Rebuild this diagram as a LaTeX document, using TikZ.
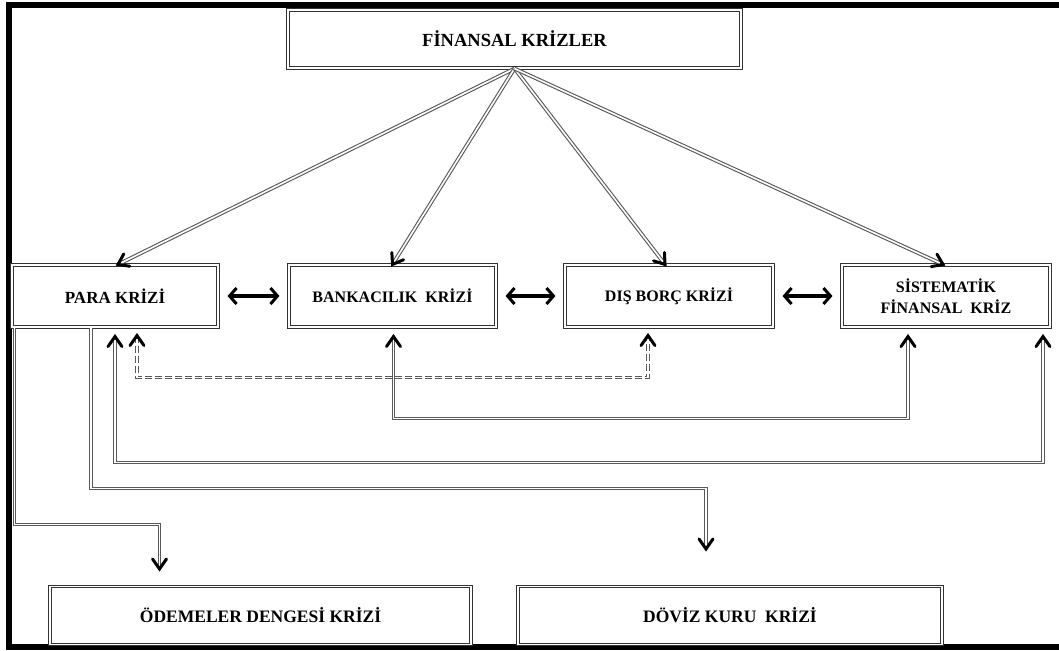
\documentclass[tikz,border=0pt]{standalone}
\usepackage{fontspec}
\setmainfont{Liberation Serif}
\usetikzlibrary{arrows.meta,calc}
\begin{document}
\begin{tikzpicture}[x=1pt,y=-1pt,
  box/.style n args={2}{draw=black!80, double=white, double distance=1.6pt, line width=1.1pt,
     minimum width=#1, minimum height=#2, inner sep=0pt, align=center,
     font=\fontsize{16}{21}\selectfont\bfseries},
  dbl/.style={draw=black!65, double=white, double distance=1.6pt, line width=1.1pt},
  vtip/.style={draw=black, solid, line width=3pt, line cap=round, line join=miter},
  harrow/.style={black, line width=3.2pt, shorten <=9pt, shorten >=9pt,
     {Straight Barb[length=7pt,width=16pt,line width=3pt]}-{Straight Barb[length=7pt,width=16pt,line width=3pt]}},
  dsh/.style={dash pattern=on 7pt off 3pt}
]
\useasboundingbox (0,0) rectangle (1059,650);
% frame
\draw[line width=6pt] (1065,5) -- (9,5) -- (9,647) -- (1065,647);

% boxes
\node[box={453pt}{58pt}, font=\fontsize{18.5}{22}\selectfont\bfseries] (top) at (514.5,39) {FİNANSAL KRİZLER};
\node[box={206pt}{62pt}, font=\fontsize{17}{21}\selectfont\bfseries] (para) at (115,296) {PARA KRİZİ};
\node[box={207pt}{62pt}] (banka) at (392.5,296) {BANKACILIK\ \ KRİZİ};
\node[box={208pt}{62pt}] (dis) at (669,296) {DIŞ BORÇ KRİZİ};
\node[box={208pt}{62pt}] (sist) at (946,296) {SİSTEMATİK\\FİNANSAL\ \ KRİZ};
\node[box={421pt}{58pt}, font=\fontsize{17.5}{20}\selectfont\bfseries] (odem) at (260.5,615.5) {ÖDEMELER DENGESİ KRİZİ};
\node[box={424pt}{58pt}, font=\fontsize{17.5}{20}\selectfont\bfseries] (doviz) at (730,615.5) {DÖVİZ KURU\ \ KRİZİ};

% arrows from top
\coordinate (eP) at ($(para.north)+(3,0)$);
\coordinate (eB) at (banka.north);
\coordinate (eD) at ($(dis.north)+(-4,0)$);
\coordinate (eS) at ($(sist.north)+(-3,0)$);
\foreach \e in {eP,eB,eD,eS}{
  \draw[dbl] (top.south) -- (\e);
  \draw[vtip] ($(\e)!12pt!35:(top.south)$) -- (\e) -- ($(\e)!12pt!-35:(top.south)$);
}

% horizontal double arrows
\draw[harrow] (para.east) -- (banka.west);
\draw[harrow] (banka.east) -- (dis.west);
\draw[harrow] (dis.east) -- (sist.west);

% free ends
\coordinate (dA) at ($(para.south)+(22,8)$);
\coordinate (dB) at ($(dis.south)+(-21,8)$);
\coordinate (bA) at ($(banka.south)+(1,9)$);
\coordinate (sA) at ($(sist.south)+(-38,9)$);
\coordinate (pA) at ($(para.south)+(0,9)$);
\coordinate (rA) at ($(sist.south)+(97,9)$);
\coordinate (pB) at ($(para.south)+(-24,0)$);
\coordinate (pC) at ($(para.south west)+(3,0)$);
\coordinate (dv) at ($(doviz.north)+(-24,-37)$);
\coordinate (od) at ($(odem.north)+(-101,-17)$);

% feedback connectors
\draw[dbl, dsh] (dA) -- ++(0,42) -| (dB);
\draw[dbl] (bA) -- ++(0,82) -| (sA);
\draw[dbl] (pA) -- ++(0,126) -| (rA);
\foreach \e in {dA,dB,bA,sA,pA,rA}{
  \draw[vtip] ($(\e)+(-7,10)$) -- (\e) -- ($(\e)+(7,10)$);
}

% down connectors
\draw[dbl] (pB) -- ++(0,161) -| (dv);
\draw[dbl] (pC) -- ++(0,197) -| (od);
\foreach \e in {dv,od}{
  \draw[vtip] ($(\e)+(-7,-10)$) -- (\e) -- ($(\e)+(7,-10)$);
}
\end{tikzpicture}
\end{document}
